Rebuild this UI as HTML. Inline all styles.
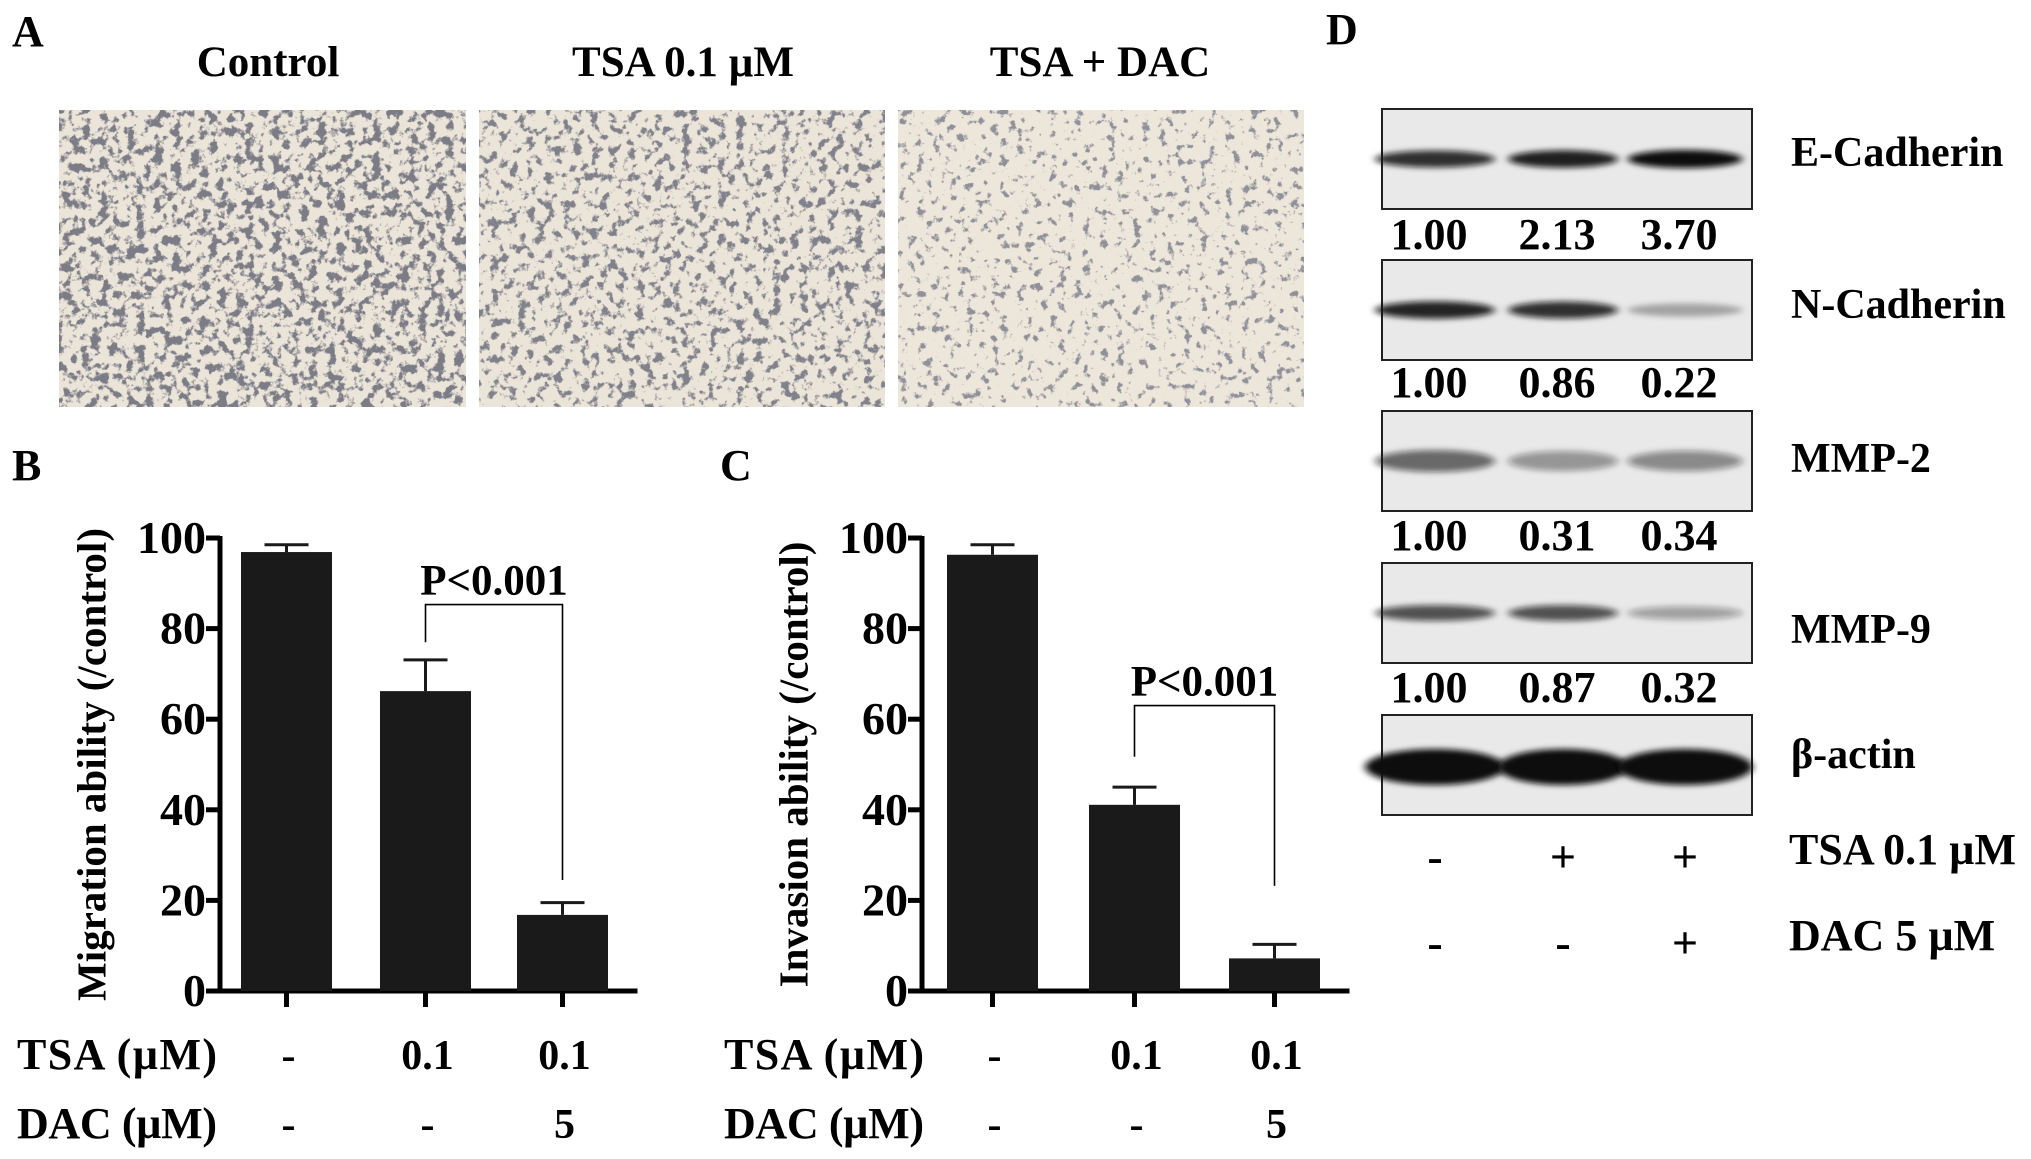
<!DOCTYPE html>
<html><head><meta charset="utf-8"><style>
html,body{margin:0;padding:0;background:#fff;}
svg{display:block;font-family:"Liberation Serif",serif;font-weight:bold;}
</style></head><body>
<svg id="fig" width="2031" height="1159" viewBox="0 0 2031 1159" xmlns="http://www.w3.org/2000/svg">
<defs>
<filter id="cells" x="0" y="0" width="100%" height="100%">
<feTurbulence type="fractalNoise" baseFrequency="0.11" numOctaves="4" seed="4" result="n"/>
<feColorMatrix in="n" type="matrix" values="0 0 0 0 0.2  0 0 0 0 0.2  0 0 0 0 0.24  8 0 0 0 -4.0" />
</filter>
<filter id="cells2" x="0" y="0" width="100%" height="100%">
<feTurbulence type="fractalNoise" baseFrequency="0.11" numOctaves="4" seed="9" result="n"/>
<feColorMatrix in="n" type="matrix" values="0 0 0 0 0.22  0 0 0 0 0.22  0 0 0 0 0.26  8 0 0 0 -4.3" />
</filter>
<filter id="cells3" x="0" y="0" width="100%" height="100%">
<feTurbulence type="fractalNoise" baseFrequency="0.12" numOctaves="4" seed="13" result="n"/>
<feColorMatrix in="n" type="matrix" values="0 0 0 0 0.28  0 0 0 0 0.28  0 0 0 0 0.32  8 0 0 0 -4.7" />
</filter>
<filter id="blur" x="-20%" y="-100%" width="140%" height="300%"><feGaussianBlur stdDeviation="4 3"/></filter>
</defs>

<text x="12" y="46" font-size="44">A</text>
<text x="268" y="76" font-size="43" text-anchor="middle">Control</text>
<text x="683" y="76" font-size="43" text-anchor="middle">TSA 0.1 µM</text>
<text x="1100" y="76" font-size="43" text-anchor="middle">TSA + DAC</text>
<g>
<rect x="59" y="110" width="407" height="297" fill="#ebe4d8"/>
<rect x="59" y="110" width="407" height="297" filter="url(#cells)"/>
</g>
<g>
<rect x="479" y="110" width="406" height="297" fill="#ebe4d8"/>
<rect x="479" y="110" width="406" height="297" filter="url(#cells2)"/>
</g>
<g>
<rect x="898" y="110" width="406" height="297" fill="#ede6da"/>
<rect x="898" y="110" width="406" height="297" filter="url(#cells3)"/>
</g>

<text x="12" y="480" font-size="44">B</text>
<text x="720" y="480" font-size="44">C</text>
<g id="chartB"></g>
<g id="chartC"></g>

<text x="1326" y="44" font-size="44">D</text>
<g id="blots"></g>
</svg>
<script>
const NS="http://www.w3.org/2000/svg";
const groups=["Control","TSA","TSA+DAC"];
const tsaLabels=["-","0.1","0.1"];
const dacLabels=["-","-","5"];
const yTicks=[0,20,40,60,80,100];
const migrationValues=[96.9,66.2,16.8];
const migrationErrors=[1.6,6.9,2.7];
const invasionValues=[96.3,41.1,7.2];
const invasionErrors=[2.2,3.9,3.1];
const migrationBracket=[85.3,77,24.5];
const invasionBracket=[63,51.7,23.2];
const blotProteins=["E-Cadherin","N-Cadherin","MMP-2","MMP-9","β-actin"];
const blotRatios=[["1.00","2.13","3.70"],["1.00","0.86","0.22"],["1.00","0.31","0.34"],["1.00","0.87","0.32"]];
const blotIntensity=[[0.85,0.92,1],[0.9,0.85,0.3],[0.6,0.4,0.45],[0.7,0.7,0.35],[1,1,1]];
const tsaSigns=["-","+","+"];
const dacSigns=["-","-","+"];

function el(tag,attrs,parent,text){const e=document.createElementNS(NS,tag);for(const k in attrs)e.setAttribute(k,attrs[k]);if(text!==undefined)e.textContent=text;parent.appendChild(e);return e;}

function drawChart(gid,ax,barX,values,errors,bracket,title,prefix){
  const g=document.getElementById(gid);
  const y0=991,scale=4.53;
  const y=v=>y0-v*scale;
  const bw=91;
  const yAxis=el("line",{x1:ax,y1:y(100)-2,x2:ax,y2:y0+2,stroke:"#000","stroke-width":5},g);
  
  
  const xAxis=el("line",{x1:ax-2,y1:y0,x2:barX[2]+bw/2+75,y2:y0,stroke:"#000","stroke-width":5},g);
  
  
  yTicks.forEach(t=>{
    const tk=el("line",{x1:ax-14,y1:y(t),x2:ax,y2:y(t),stroke:"#000","stroke-width":5},g);
    
    
    const tl=el("text",{x:ax-14,y:y(t)+15,"font-size":46,"text-anchor":"end"},g,String(t));
    
    
  });
  const yt=el("text",{transform:`translate(${ax-124},${(y(100)+y0)/2}) rotate(-90)`,"font-size":41,"text-anchor":"middle","dominant-baseline":"middle"},g,title);
  
  
  values.forEach((v,i)=>{
    const cx=barX[i]+bw/2;
    const b=el("rect",{x:barX[i],y:y(v),width:bw,height:y0-y(v),fill:"#1a1a1a"},g);
    
    
    const e=el("path",{d:`M${cx} ${y(v)} V${y(v+errors[i])} M${cx-22} ${y(v+errors[i])} H${cx+22}`,stroke:"#1a1a1a","stroke-width":3,fill:"none"},g);
    
    
    const tk=el("line",{x1:cx,y1:y0,x2:cx,y2:y0+16,stroke:"#000","stroke-width":5},g);
    
    
    const t1=el("text",{x:cx+2,y:1069,"font-size":42,"text-anchor":"middle"},g,tsaLabels[i]);
    
    
    const t2=el("text",{x:cx+2,y:1138,"font-size":42,"text-anchor":"middle"},g,dacLabels[i]);
    
    
  });
  const lx=barX[1]+bw/2,rx=barX[2]+bw/2;
  const br=el("path",{d:`M${lx} ${y(bracket[1])} V${y(bracket[0])} H${rx} V${y(bracket[2])}`,stroke:"#000","stroke-width":1.6,fill:"none"},g);
  
  
  const pt=el("text",{x:(lx+rx)/2,y:y(bracket[0])-10,"font-size":43,"text-anchor":"middle"},g,"P<0.001");
  
  
  const lxl=ax-203+(prefix==="inv"?5:0);
  const r1=el("text",{x:lxl,y:1069,"font-size":44,textLength:200,lengthAdjust:"spacing"},g,"TSA  (µM)");
  
  
  const r2=el("text",{x:lxl,y:1138,"font-size":44,textLength:200,lengthAdjust:"spacing"},g,"DAC (µM)");
  
  
}
drawChart("chartB",220,[241,380,517],migrationValues,migrationErrors,migrationBracket,"Migration ability (/control)","mig");
drawChart("chartC",922,[947,1089,1229],invasionValues,invasionErrors,invasionBracket,"Invasion ability (/control)","inv");

(function(){
  const g=document.getElementById("blots");
  const boxX=1382,boxW=370,boxH=100;
  const boxY=[109,260,411,563,715];
  const labelY=[166,318,472,643,768];
  const laneX=[1435,1563,1685];
  const laneW=[120,110,115];
  blotProteins.forEach((p,r)=>{
    const bx=el("rect",{x:boxX,y:boxY[r],width:boxW,height:boxH,fill:"#e9e9e9",stroke:"#222","stroke-width":2},g);
    
    
    blotIntensity[r].forEach((v,i)=>{
      const h=r===4?36:(r===2?26:18);
      const band=el("ellipse",{cx:laneX[i],cy:boxY[r]+boxH/2+(r===4?2:0),rx:laneW[i]/2+(r===4?10:0),ry:h/2*(0.6+0.4*v),fill:"#111","fill-opacity":v,filter:"url(#blur)"},g);
      
      
    });
    const lb=el("text",{x:1791,y:labelY[r],"font-size":42},g,p);
    
    
  });
  const numY=[249,397,550,702];
  blotRatios.forEach((row,r)=>{
    row.forEach((t,i)=>{
      const nt=el("text",{x:laneX[i]-6,y:numY[r],"font-size":44,"text-anchor":"middle"},g,t);
      
      
    });
  });
  tsaSigns.forEach((s,i)=>{
    const t=el("text",{x:laneX[i],y:872,"font-size":46,"text-anchor":"middle"},g,s);
    
    
  });
  dacSigns.forEach((s,i)=>{
    const t=el("text",{x:laneX[i],y:958,"font-size":46,"text-anchor":"middle"},g,s);
    
    
  });
  const a=el("text",{x:1789,y:864,"font-size":44},g,"TSA 0.1 µM");
  
  
  const b=el("text",{x:1789,y:950,"font-size":44},g,"DAC 5 µM");
  
  
})();
</script>
</body></html>
